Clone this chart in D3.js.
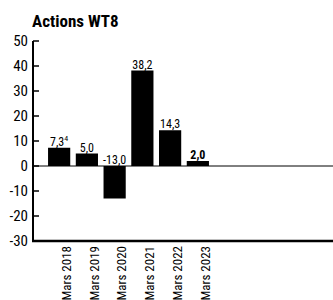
<!DOCTYPE html>
<html>
<head>
<meta charset="utf-8">
<script src="https://cdn.jsdelivr.net/npm/d3@7"></script>
<style>
  body { margin: 0; background: #fff; }
  svg text { font-family: "Liberation Sans Narrow", "Roboto Condensed", "Liberation Sans", sans-serif; fill: #000; }
</style>
</head>
<body>
<div id="chart"></div>
<script>
var categories = ["Mars 2018", "Mars 2019", "Mars 2020", "Mars 2021", "Mars 2022", "Mars 2023"];
var values = [7.3, 5.0, -13.0, 38.2, 14.3, 2.0];
var valueLabels = ["7,3", "5,0", "-13,0", "38,2", "14,3", "2,0"];
var labelNotes = ["4", "", "", "", "", ""];
var yTicks = [50, 40, 30, 20, 10, 0, -10, -20, -30];

var width = 333, height = 300;

var svg = d3.select("#chart").append("svg")
    .attr("width", width)
    .attr("height", height);

svg.append("text")
    .attr("x", 32)
    .attr("y", 27)
    .attr("font-size", 17)
    .attr("font-weight", "bold")
    .text("Actions WT8");

var x = d3.scaleBand()
    .domain(categories)
    .range([42.5, 214.5])
    .padding(0.2);

var y = d3.scaleLinear()
    .domain([-30, 50])
    .range([241, 41]);

// y axis
var yAxis = svg.append("g").attr("class", "yaxis");
yAxis.append("line")
    .attr("x1", 33).attr("x2", 33)
    .attr("y1", y(50)).attr("y2", y(-30))
    .attr("stroke", "#000").attr("stroke-width", 2);
yAxis.selectAll(".tick")
    .data(yTicks)
    .enter().append("line")
    .attr("x1", 33).attr("x2", 39)
    .attr("y1", function(d) { return y(d); })
    .attr("y2", function(d) { return y(d); })
    .attr("stroke", "#000").attr("stroke-width", 1.5);
yAxis.selectAll("text")
    .data(yTicks)
    .enter().append("text")
    .attr("x", 28)
    .attr("y", function(d) { return y(d); })
    .attr("dy", "0.36em")
    .attr("text-anchor", "end")
    .attr("font-size", 15)
    .text(function(d) { return d; });

// bars
svg.append("g").selectAll("rect")
    .data(values)
    .enter().append("rect")
    .attr("x", function(d, i) { return x(categories[i]); })
    .attr("y", function(d) { return y(Math.max(0, d)); })
    .attr("width", x.bandwidth())
    .attr("height", function(d) { return Math.abs(y(d) - y(0)); })
    .attr("fill", "#000");

// zero line
svg.append("line")
    .attr("x1", 33).attr("x2", width)
    .attr("y1", y(0)).attr("y2", y(0))
    .attr("stroke", "#000").attr("stroke-width", 1);

// bottom axis line
svg.append("line")
    .attr("x1", 32).attr("x2", width)
    .attr("y1", y(-30)).attr("y2", y(-30))
    .attr("stroke", "#000").attr("stroke-width", 2.5);

// value labels
var labels = svg.append("g").selectAll("text")
    .data(values)
    .enter().append("text")
    .attr("x", function(d, i) { return x(categories[i]) + x.bandwidth() / 2; })
    .attr("y", function(d) { return y(Math.max(0, d)) - 2; })
    .attr("text-anchor", "middle")
    .attr("font-size", 12)
    .attr("font-weight", function(d, i) { return i === values.length - 1 ? "bold" : null; })
    .text(function(d, i) { return valueLabels[i]; });
labels.filter(function(d, i) { return labelNotes[i]; })
    .append("tspan")
    .attr("font-size", 8)
    .attr("dy", -5)
    .text(function(d, i) { return labelNotes[values.indexOf(d)]; });

// category labels
svg.append("g").selectAll("text")
    .data(categories)
    .enter().append("text")
    .attr("transform", function(d) {
        return "translate(" + (x(d) + x.bandwidth() / 2 + 7) + ",246) rotate(-90)";
    })
    .attr("dy", "0.36em")
    .attr("text-anchor", "end")
    .attr("font-size", 13)
    .text(function(d) { return d; });
</script>
</body>
</html>
